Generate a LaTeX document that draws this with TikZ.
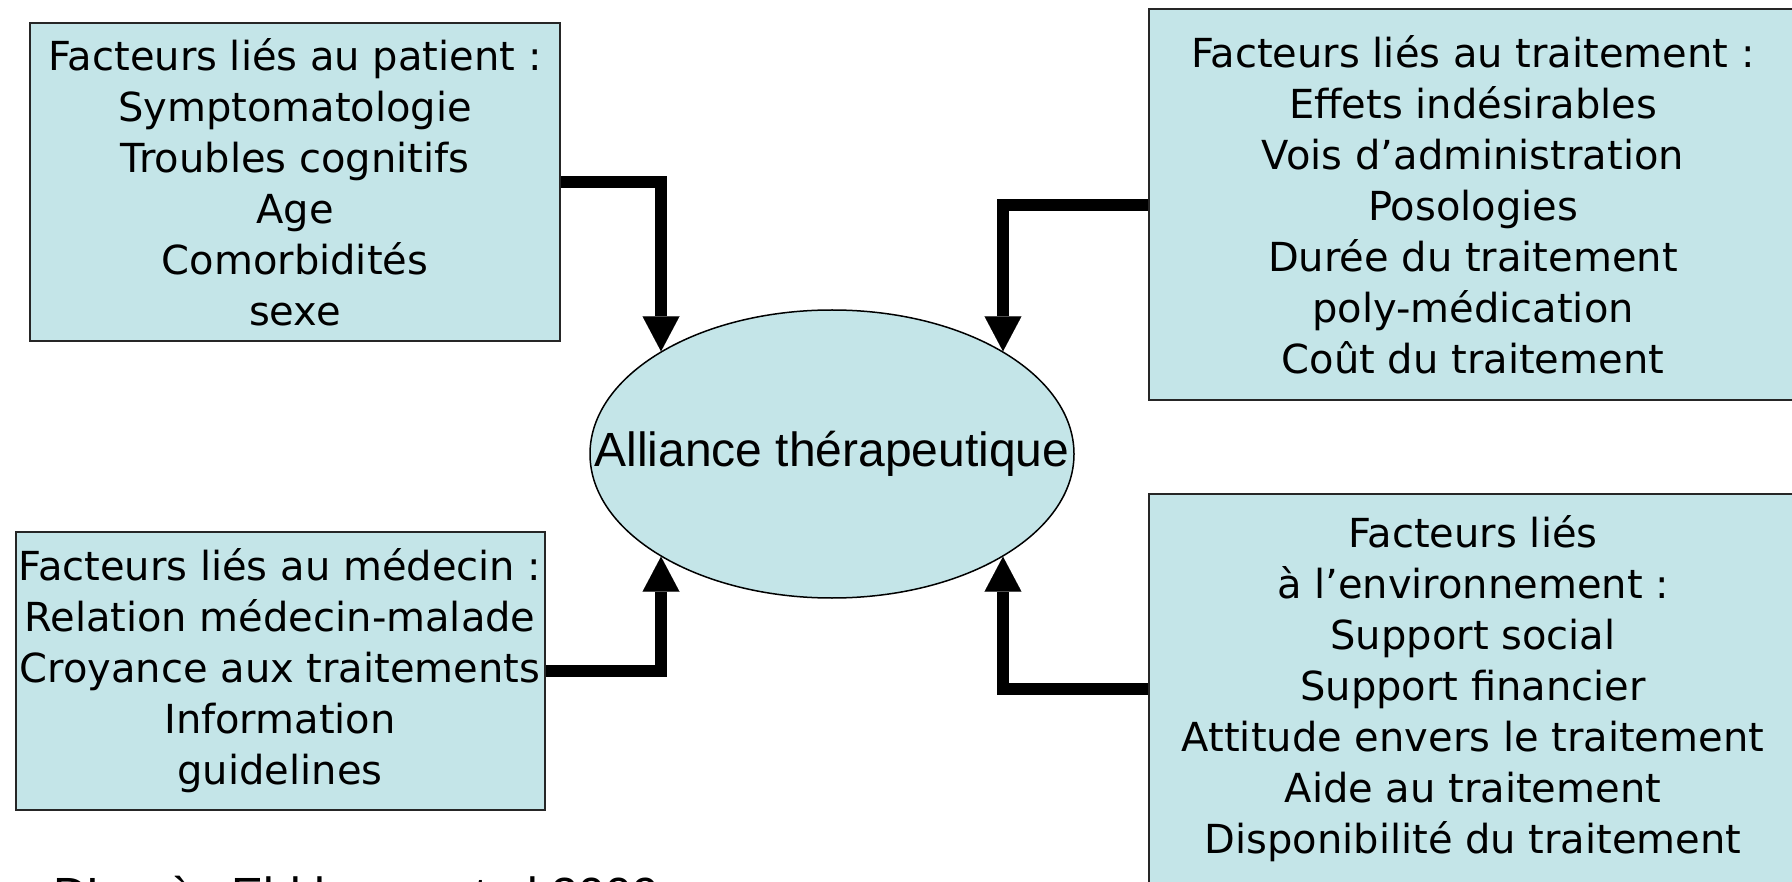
\documentclass[tikz,border=0pt]{standalone}
\usepackage{fontspec}
\setmainfont{DejaVu Sans}
\newfontfamily\arialfont{Liberation Sans}
\usepackage{tikz}
\usetikzlibrary{shapes,arrows.meta,positioning}
\definecolor{boxblue}{RGB}{196,229,232}
\tikzstyle{fnode} = [rectangle, draw=black!85, line width=2pt, fill=boxblue, inner sep=0pt, align=center, font=\fontsize{40}{51}\selectfont]
\tikzstyle{enode} = [ellipse, draw, line width=1.5pt, fill=boxblue, inner sep=0pt, minimum width=484pt, minimum height=288pt]
\tikzstyle{line} = [draw, line width=12pt, -{Triangle[width=37pt,length=35pt,line width=0.01pt]}]

\begin{document}
\begin{tikzpicture}[x=1pt, y=-1pt]
			\useasboundingbox (0,0) rectangle (1792,882);
			\node [fnode, minimum width=530pt, minimum height=318pt] (patient) at (295,182) {Facteurs liés au patient :\\Symptomatologie\\Troubles cognitifs\\Age\\Comorbidités\\sexe};
			\node [fnode, minimum width=648pt, minimum height=391pt] (trait) at (1473,205) {Facteurs liés au traitement :\\Effets indésirables\\Vois d’administration\\Posologies\\Durée du traitement\\poly-médication\\Coût du traitement};
			\node [fnode, minimum width=529pt, minimum height=278pt] (med) at (280,671) {Facteurs liés au médecin :\\Relation médecin-malade\\Croyance aux traitements\\Information\\guidelines};
			\node [fnode, minimum width=648pt, minimum height=390pt] (env) at (1473,689) {Facteurs liés\\à l’environnement :\\Support social\\Support financier\\Attitude envers le traitement\\Aide au traitement\\Disponibilité du traitement};
			\node [enode, label={[inner sep=0pt, font=\arialfont\fontsize{48}{58}\selectfont]center:Alliance thérapeutique}] (alliance) at (832,454) {};
			\node [anchor=base west, inner sep=0pt, font=\arialfont\fontsize{48}{58}\selectfont] (source) at (53,911) {D’après El-khoury et al 2009};

			\path [line] (patient.east) -| (alliance.149);
			\path [line] (trait.west) -| (alliance.31);
			\path [line] (med.east) -| (alliance.211);
			\path [line] (env.west) -| (alliance.329);
		\end{tikzpicture}
\end{document}
